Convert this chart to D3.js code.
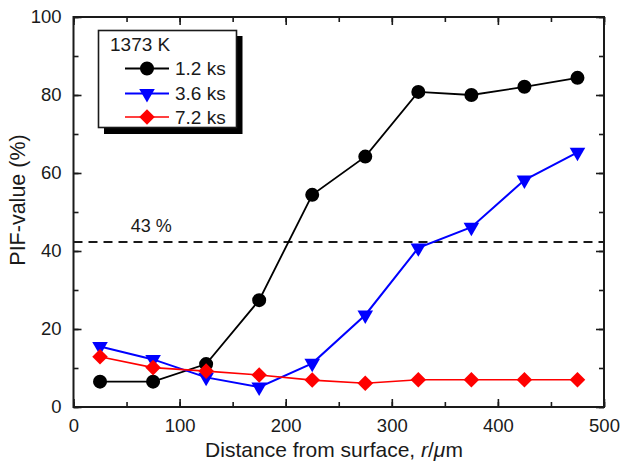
<!DOCTYPE html>
<html><head><meta charset="utf-8">
<script src="https://cdn.jsdelivr.net/npm/d3@7"></script>
<style>
body{margin:0;background:#fff;}
text{font-family:"Liberation Sans",Arial,sans-serif;fill:#1a1a1a;}
</style></head>
<body><svg id="c" width="621" height="463"></svg>
<script>
const distances = [25, 75, 125, 175, 225, 275, 325, 375, 425, 475];
const pif12 = [6.5, 6.5, 11.0, 27.4, 54.4, 64.2, 80.8, 80.0, 82.1, 84.4];
const pif36 = [15.5, 12.2, 7.6, 5.1, 11.2, 23.6, 40.8, 46.1, 58.2, 65.3];
const pif72 = [12.9, 10.1, 9.2, 8.2, 6.9, 6.1, 7.0, 7.0, 7.0, 7.0];
const seriesNames = ["1.2 ks", "3.6 ks", "7.2 ks"];
const legendTitle = "1373 K";
const thresholdValue = 42.3;
const thresholdLabel = "43 %";
const xTicks = [0, 100, 200, 300, 400, 500];
const yTicks = [0, 20, 40, 60, 80, 100];

const svg = d3.select("#c");
const L = 73.5, R = 604, T = 17, B = 407;
const x = d3.scaleLinear().domain([0, 500]).range([L, R]);
const y = d3.scaleLinear().domain([0, 100]).range([B, T]);

const series = [
  {name: seriesNames[0], vals: pif12, color: "#000000", sym: d3.symbolCircle, size: 154, lw: 1.8, rot: 0},
  {name: seriesNames[1], vals: pif36, color: "#0000ff", sym: d3.symbolTriangle, size: 105, lw: 2, rot: 180},
  {name: seriesNames[2], vals: pif72, color: "#ff0000", sym: d3.symbolSquare, size: 121, lw: 1.6, rot: 45}
];

// axes with inward ticks
const minorX = d3.range(0, 501, 50);
const minorY = d3.range(0, 101, 10);
function axisGroup(axis, tr){ return svg.append("g").attr("transform", tr).call(axis); }
const ax = [];
ax.push(axisGroup(d3.axisBottom(x).tickValues(minorX).tickSize(-5).tickFormat(""), `translate(0,${B})`));
ax.push(axisGroup(d3.axisBottom(x).tickValues(xTicks).tickSize(-8).tickPadding(12).tickFormat(d3.format("d")), `translate(0,${B})`));
ax.push(axisGroup(d3.axisTop(x).tickValues(minorX).tickSize(-5).tickFormat(""), `translate(0,${T})`));
ax.push(axisGroup(d3.axisTop(x).tickValues(xTicks).tickSize(-8).tickFormat(""), `translate(0,${T})`));
ax.push(axisGroup(d3.axisLeft(y).tickValues(minorY).tickSize(-5).tickFormat(""), `translate(${L},0)`));
ax.push(axisGroup(d3.axisLeft(y).tickValues(yTicks).tickSize(-8).tickPadding(12).tickFormat(d3.format("d")), `translate(${L},0)`));
ax.push(axisGroup(d3.axisRight(y).tickValues(minorY).tickSize(-5).tickFormat(""), `translate(${R},0)`));
ax.push(axisGroup(d3.axisRight(y).tickValues(yTicks).tickSize(-8).tickFormat(""), `translate(${R},0)`));
ax.forEach(g => {
  g.select(".domain").remove();
  g.selectAll("line").attr("stroke", "#1a1a1a").attr("stroke-width", 1.6);
  g.selectAll("text").attr("font-size", 18.5).attr("fill", "#1a1a1a").attr("font-family", '"Liberation Sans",Arial,sans-serif');
});
svg.append("rect").attr("x", L).attr("y", T).attr("width", R - L).attr("height", B - T)
  .attr("fill", "none").attr("stroke", "#1a1a1a").attr("stroke-width", 2);

// threshold line
svg.append("line").attr("x1", L).attr("x2", R).attr("y1", y(thresholdValue)).attr("y2", y(thresholdValue))
  .attr("stroke", "#1a1a1a").attr("stroke-width", 2).attr("stroke-dasharray", "9,6");
svg.append("text").attr("x", x(54)).attr("y", y(thresholdValue) - 10).attr("font-size", 18).text(thresholdLabel);

// series
const line = d3.line().x((d, i) => x(distances[i])).y(d => y(d));
series.forEach(s => {
  svg.append("path").datum(s.vals).attr("d", line).attr("fill", "none")
    .attr("stroke", s.color).attr("stroke-width", s.lw);
});
series.forEach(s => {
  svg.selectAll(null).data(s.vals).enter().append("path")
    .attr("d", d3.symbol().type(s.sym).size(s.size))
    .attr("transform", (d, i) => `translate(${x(distances[i])},${y(d)}) rotate(${s.rot})`)
    .attr("fill", s.color);
});

// legend
const lg = svg.append("g");
lg.append("rect").attr("x", 104).attr("y", 36).attr("width", 138.5).attr("height", 98).attr("fill", "#000");
lg.append("rect").attr("x", 98.5).attr("y", 30.5).attr("width", 138).attr("height", 97)
  .attr("fill", "#fff").attr("stroke", "#1a1a1a").attr("stroke-width", 1.6);
lg.append("text").attr("x", 110).attr("y", 51).attr("font-size", 19).text(legendTitle);
const rows = [68.5, 93.5, 117];
series.forEach((s, i) => {
  lg.append("line").attr("x1", 125).attr("x2", 169).attr("y1", rows[i]).attr("y2", rows[i])
    .attr("stroke", s.color).attr("stroke-width", s.lw);
  lg.append("path").attr("d", d3.symbol().type(s.sym).size(s.size))
    .attr("transform", `translate(147,${rows[i]}) rotate(${s.rot})`).attr("fill", s.color);
  lg.append("text").attr("x", 175).attr("y", rows[i] + 6.8).attr("font-size", 19).text(s.name);
});

// axis titles
const xt = svg.append("text").attr("x", 334).attr("y", 457).attr("text-anchor", "middle").attr("font-size", 21);
xt.append("tspan").text("Distance from surface, ");
xt.append("tspan").attr("font-style", "italic").text("r");
xt.append("tspan").text("/");
xt.append("tspan").attr("font-style", "italic").text("μ");
xt.append("tspan").text("m");
svg.append("text").attr("transform", `translate(25,200) rotate(-90)`)
  .attr("text-anchor", "middle").attr("font-size", 21.5).text("PIF-value (%)");
</script></body></html>
